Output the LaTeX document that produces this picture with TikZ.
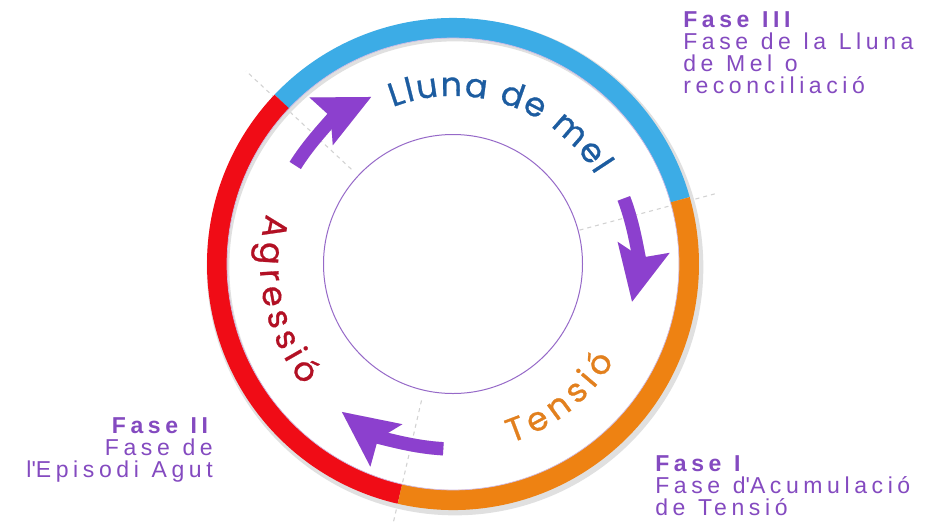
\documentclass[tikz,border=0pt]{standalone}
\usepackage{fontspec}
\usetikzlibrary{arrows.meta, decorations.text}
\newfontfamily\labelfont[LetterSpace=20]{Liberation Sans}
\newfontfamily\ringfont[FakeBold=0.8]{Poppins}
\definecolor{lunablue}{RGB}{60,172,230}
\definecolor{tensioorange}{RGB}{238,130,18}
\definecolor{agressred}{RGB}{240,12,22}
\definecolor{lunatext}{RGB}{28,92,160}
\definecolor{tensiotext}{RGB}{226,128,30}
\definecolor{agresstext}{RGB}{178,16,36}
\definecolor{phasepurple}{RGB}{132,74,192}
\definecolor{arrowviolet}{RGB}{140,64,206}
\definecolor{innerline}{RGB}{150,105,200}

\begin{document}
\begin{tikzpicture}[
        x=0.75pt, y=0.75pt,
        band/.style={line width=15pt},
        cyclearrow/.style={line width=10pt, draw=arrowviolet, fill=arrowviolet, -{Stealth[length=41pt, width=38pt, inset=7pt]}},
        arrowshadow/.style={line width=10pt, draw=black!13, fill=black!13, -{Stealth[length=41pt, width=38pt, inset=7pt]}},
        divider/.style={gray!35, dashed, line width=0.8pt},
        phase/.style={font={\labelfont\fontsize{17.25}{16.5}\selectfont}, text=phasepurple, inner sep=0pt,
            execute at begin node={\spaceskip=0.55em\relax}},
        ringtext/.style={decorate, decoration={text along path, text align={fit to path}, text={#1}}}
    ]
        \fill[white] (-453,-262) rectangle (477,264);
        \useasboundingbox (-453,-262) rectangle (477,264);

        % Phase boundaries
        \coordinate (c) at (0,0);
        \draw[divider] (137:139) -- (137:283);
        \draw[divider] (15:131) -- (15:273);
        \draw[divider] (257:140) -- (257:268);

        % Ring
        \draw[black!12, line width=17pt] (2,-3) circle[radius=237];
        \draw[band, lunablue] (15.8:236) arc[start angle=15.8, end angle=136.5, radius=236];
        \draw[band, agressred] (136.5:236) arc[start angle=136.5, end angle=257, radius=236];
        \draw[band, tensioorange] (257:236) arc[start angle=257, end angle=375.8, radius=236];
        \draw[innerline!45, line width=0.5pt] (c) circle[radius=226];
        \draw[innerline, line width=0.75pt] (c) circle[radius=129.5];

        % Ring labels
        \path[ringtext={|\ringfont\fontsize{25}{25}\selectfont\color{lunatext}|Lluna de mel}]
            (111:168) arc[start angle=111, end angle=32, radius=168];
        \path[ringtext={|\ringfont\fontsize{25}{25}\selectfont\color{tensiotext}|Tensió}]
            (-72:188) arc[start angle=-72, end angle=-31, radius=188];
        \path[ringtext={|\ringfont\fontsize{25}{25}\selectfont\color{agresstext}|Agressió}]
            (165:193) arc[start angle=165, end angle=219, radius=193];

        % Arrows
        \coordinate (a1) at (148:186);
        \coordinate (a2) at (21:183);
        \coordinate (a3) at (-93:185);
        \draw[arrowshadow, shift={(5,-5)}] (a1) arc[start angle=148, end angle=116, radius=186];
        \draw[arrowshadow, shift={(5,-5)}] (a2) arc[start angle=21, end angle=-12, radius=183];
        \draw[arrowshadow, shift={(5,-5)}] (a3) arc[start angle=-93, end angle=-127, radius=185];
        \draw[cyclearrow] (a1) arc[start angle=148, end angle=116, radius=186];
        \draw[cyclearrow] (a2) arc[start angle=21, end angle=-12, radius=183];
        \draw[cyclearrow] (a3) arc[start angle=-93, end angle=-127, radius=185];

        % Phase notes
        \node[phase, anchor=north west, align=left] (fase3) at (230,253)
            {\textbf{Fase III}\\Fase de la Lluna\\de Mel o\\reconciliació};
        \node[phase, anchor=north east, align=right] (fase2) at (-240,-153)
            {\textbf{Fase II}\\Fase de\\l\textquotesingle Episodi Agut};
        \node[phase, anchor=north west, align=left] (fase1) at (202,-191)
            {\textbf{Fase I}\\Fase d\textquotesingle Acumulació\\de Tensió};

    \end{tikzpicture}
\end{document}
